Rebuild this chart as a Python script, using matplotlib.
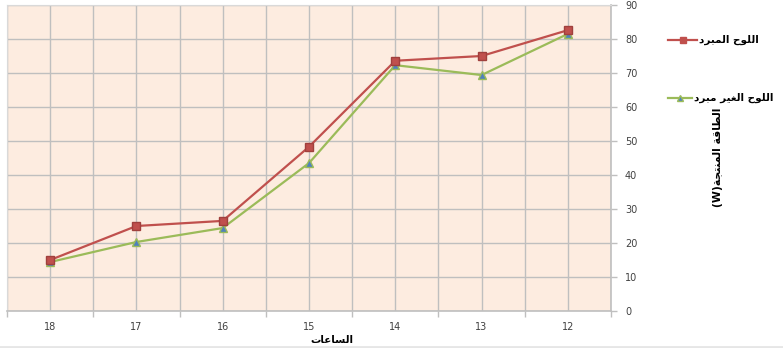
import matplotlib.pyplot as plt
from matplotlib.lines import Line2D
from matplotlib.ticker import MultipleLocator

hours = ['18', '17', '16', '15', '14', '13', '12']
cooled = [15.0, 25.0, 26.5, 48.3, 73.6, 75.0, 82.6]
uncooled = [14.4, 20.3, 24.4, 43.5, 72.3, 69.4, 81.5]

label_cooled = 'اللوح المبرد'
label_uncooled = 'اللوح الغير مبرد'
ylabel = 'الطاقة المنتجة'
xlabel = 'الساعات'

# contextual forms: isolated, final, initial, medial
FORMS = {
    'ا': (0xFE8D, 0xFE8E, None, None),
    'ب': (0xFE8F, 0xFE90, 0xFE91, 0xFE92),
    'ة': (0xFE93, 0xFE94, None, None),
    'ت': (0xFE95, 0xFE96, 0xFE97, 0xFE98),
    'ج': (0xFE9D, 0xFE9E, 0xFE9F, 0xFEA0),
    'ح': (0xFEA1, 0xFEA2, 0xFEA3, 0xFEA4),
    'د': (0xFEA9, 0xFEAA, None, None),
    'ر': (0xFEAD, 0xFEAE, None, None),
    'س': (0xFEB1, 0xFEB2, 0xFEB3, 0xFEB4),
    'ط': (0xFEC1, 0xFEC2, 0xFEC3, 0xFEC4),
    'ع': (0xFEC9, 0xFECA, 0xFECB, 0xFECC),
    'غ': (0xFECD, 0xFECE, 0xFECF, 0xFED0),
    'ق': (0xFED5, 0xFED6, 0xFED7, 0xFED8),
    'ل': (0xFEDD, 0xFEDE, 0xFEDF, 0xFEE0),
    'م': (0xFEE1, 0xFEE2, 0xFEE3, 0xFEE4),
    'ن': (0xFEE5, 0xFEE6, 0xFEE7, 0xFEE8),
    'و': (0xFEED, 0xFEEE, None, None),
    'ي': (0xFEF1, 0xFEF2, 0xFEF3, 0xFEF4),
}


def ar(text):
    # join letters and lay them out right-to-left
    out = []
    for i, ch in enumerate(text):
        if ch not in FORMS:
            out.append(ch)
            continue
        prev = text[i - 1] if i > 0 else ''
        nxt = text[i + 1] if i + 1 < len(text) else ''
        join_prev = prev in FORMS and FORMS[prev][2] is not None
        join_next = nxt in FORMS and FORMS[ch][2] is not None
        iso, fin, ini, med = FORMS[ch]
        if join_prev and join_next:
            code = med
        elif join_prev:
            code = fin
        elif join_next:
            code = ini
        else:
            code = iso
        out.append(chr(code))
    return ''.join(reversed(out))


red = '#C0504D'
green = '#9BBB59'
blue = '#4F81BD'
grid = '#BFBFBF'
tick_col = '#404040'

fig = plt.figure(figsize=(7.83, 3.48), dpi=100)
ax = fig.add_axes([7 / 783, 37 / 348, 604 / 783, 306 / 348])
ax.set_facecolor('#FDECE0')

x = list(range(len(hours)))
ax.plot(x, cooled, color=red, lw=1.6, marker='s', ms=5.5,
        mfc=red, mec='#A0403D', zorder=4)
ax.plot(x, uncooled, color=green, lw=1.6, marker='^', ms=5.5,
        mfc=blue, mec=green, zorder=3)

ax.set_xlim(-0.5, len(hours) - 0.5)
ax.set_ylim(0, 90)
ax.set_xticks(x)
ax.set_xticklabels(hours)
ax.xaxis.set_minor_locator(MultipleLocator(1, offset=0.5))
ax.yaxis.set_major_locator(MultipleLocator(10))
ax.grid(True, which='both', axis='x', color=grid, lw=1)
ax.grid(True, which='major', axis='y', color=grid, lw=1)
ax.set_axisbelow(True)

ax.yaxis.tick_right()
ax.tick_params(axis='y', direction='out', length=4, width=1, color=grid,
               labelsize=7, labelcolor=tick_col, pad=6)
ax.tick_params(axis='x', which='major', length=0, labelsize=7,
               labelcolor=tick_col, pad=8)
ax.tick_params(axis='x', which='minor', direction='out', length=4,
               width=1, color=grid)

for side in ['top', 'left']:
    ax.spines[side].set_color('#D9D9D9')
for side in ['right', 'bottom']:
    ax.spines[side].set_color(grid)
    ax.spines[side].set_linewidth(1.2)

fig.text(332 / 783, 1 - 340 / 348, ar(xlabel), ha='center', va='center',
         fontsize=7.5, fontweight='bold', color='black')
fig.text(718 / 783, 1 - 157 / 348, '(W)' + ar(ylabel), rotation=90,
         ha='center', va='center', fontsize=7.8, fontweight='bold')

# legend samples
for y, col, mk, face, name, x0, x1 in [
        (40, red, 's', red, label_cooled, 668, 697),
        (98, green, '^', blue, label_uncooled, 668, 692)]:
    yy = 1 - y / 348
    xs = [x0 / 783, (x0 + x1) / 2 / 783, x1 / 783]
    fig.add_artist(Line2D(xs, [yy] * 3, color=col, lw=1.6, marker=mk,
                          markevery=[1], ms=5, mfc=face, mec=col,
                          transform=fig.transFigure))
    fig.text((x1 + 2) / 783, yy, ar(name), ha='left', va='center',
             fontsize=7.5, fontweight='bold')

fig.add_artist(Line2D([0, 1], [1.5 / 348, 1.5 / 348], color='#E6E6E6',
                      lw=2, transform=fig.transFigure))

fig.savefig('out.png', dpi=100)
